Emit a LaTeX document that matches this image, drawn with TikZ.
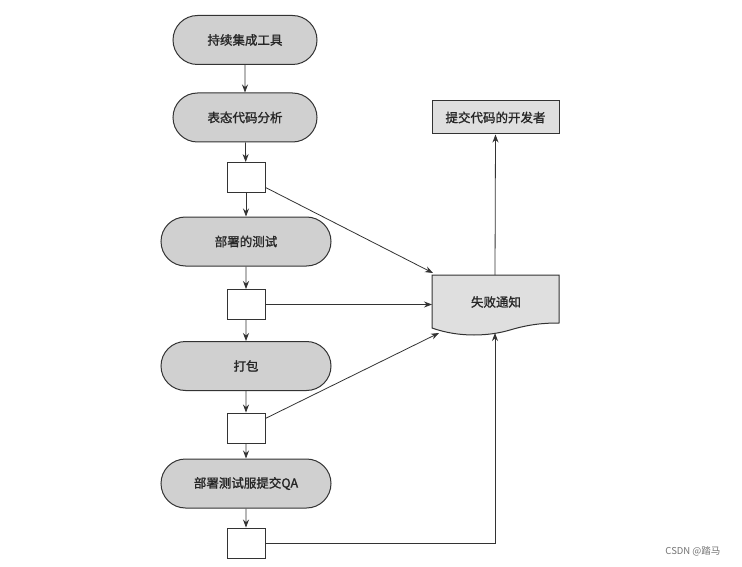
\documentclass[tikz,border=0pt]{standalone}
\usepackage{fontspec}
\newfontfamily\cjk{Noto Sans CJK SC}
\newfontfamily\cjkb[FakeBold=1.3]{Noto Sans CJK SC}
\usetikzlibrary{shapes.misc,arrows.meta}
\definecolor{pillfill}{HTML}{D0D0D0}
\definecolor{docfill}{HTML}{DFDFDF}
\definecolor{linec}{HTML}{333333}
\begin{document}
\begin{tikzpicture}[x=1pt,y=-1pt,
  every node/.style={font=\cjkb\fontsize{12.5}{14}\selectfont, text=black!85},
  pill/.style={rounded rectangle, draw=linec, line width=1pt, fill=pillfill, minimum height=49pt, inner sep=0pt},
  sbox/.style={rectangle, draw=linec, line width=0.9pt, fill=white, minimum width=38pt, minimum height=30pt, inner sep=0pt},
  flow/.style={draw=linec, line width=0.8pt, -{Stealth[length=8pt,width=6pt]}}]
\useasboundingbox (0,0) rectangle (742,567);
\fill[white] (0,0) rectangle (742,567);
% main column
\node[pill, minimum width=144pt] (ci) at (245,40) {持续集成工具};
\node[pill, minimum width=144pt] (sa) at (245,117.5) {表态代码分析};
\node[sbox] (b1) at (246,177.5) {};
\node[pill, minimum width=170pt] (dt) at (246,241.5) {部署的测试};
\node[sbox] (b2) at (246,304.5) {};
\node[pill, minimum width=170pt] (pk) at (246,366) {打包};
\node[sbox] (b3) at (246,428) {};
\node[pill, minimum width=170pt] (qa) at (246,483.5) {部署测试服提交QA};
\node[sbox] (b4) at (246,543) {};
% failure notice (document shape)
\coordinate (ftl) at (432,275);
\coordinate (ftr) at (559,275);
\coordinate (fbr) at (559,323);
\coordinate (fbl) at (432,328);
\filldraw[draw=linec, line width=1pt, fill=docfill]
  (ftl) -- (ftr) -- (fbr) .. controls (545,323) and (530,324) .. (510,330)
  .. controls (490,336) and (460,338) .. (fbl) -- cycle;
\node (fail) at (496,302) {失败通知};
\coordinate (fin1) at (433,273);
\coordinate (fin3) at (439,333);
\coordinate (fin4) at (495,333);
\coordinate (ftop) at (495,275);
% developer box
\node[rectangle, draw=linec, line width=1pt, fill=docfill, minimum width=127pt, minimum height=33pt, inner sep=0pt] (dev) at (495.5,117.5) {提交代码的开发者};
% connectors
\draw[flow] (ci) -- (sa);
\draw[flow] (sa) -- (b1);
\draw[flow] (b1) -- (dt);
\draw[flow] (dt) -- (b2);
\draw[flow] (b2) -- (pk);
\draw[flow] (pk) -- (b3);
\draw[flow] (b3) -- (qa);
\draw[flow] (qa) -- (b4);
\draw[flow] (b1) -- (fin1);
\draw[flow] (b2.east) -- (b2.east -| ftl);
\draw[flow] (b3) -- (fin3);
\draw[flow] (b4.east) -| (fin4);
\draw[flow] (ftop) -- (dev.south);
% watermark
\node[font=\cjk\fontsize{9.5}{11}\selectfont, text=black!55, anchor=east] (wm) at (724,551) {CSDN @踏马};
\end{tikzpicture}
\end{document}
